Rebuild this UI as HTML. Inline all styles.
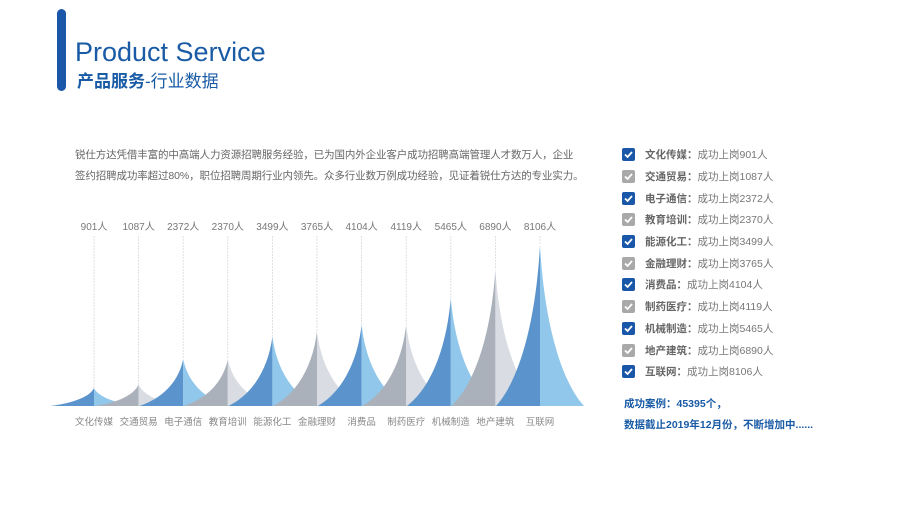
<!DOCTYPE html>
<html><head><meta charset="utf-8"><style>
html,body{margin:0;padding:0;background:#fff;}
body{width:907px;height:510px;overflow:hidden;position:relative;font-family:"Liberation Sans","Noto Sans CJK SC",sans-serif;}
.bar{position:absolute;left:57px;top:9px;width:9px;height:82px;border-radius:5px;background:#1a57a8;}
.t1{position:absolute;left:75px;top:34px;font-size:27px;color:#1a5ba6;line-height:36px;white-space:nowrap;}
.t2{position:absolute;left:77px;top:71px;font-size:17px;color:#1a5ba6;line-height:22px;white-space:nowrap;}
.para{position:absolute;left:75px;top:145px;font-size:10.5px;color:#666;line-height:21px;white-space:nowrap;letter-spacing:-0.12px;}
.legend{position:absolute;left:622px;top:144px;}
.row{height:21.7px;display:flex;align-items:center;font-size:10.5px;color:#777;white-space:nowrap;}
.cb{width:13px;height:13px;border-radius:2px;margin-right:10px;display:flex;align-items:center;justify-content:center;}
.cb svg{display:block}
.row b{color:#666;font-weight:bold;}
.foot{position:absolute;left:624px;font-size:10.5px;font-weight:bold;color:#1a5ba6;white-space:nowrap;}
</style></head><body>
<div class="bar"></div>
<div class="t1">Product Service</div>
<div class="t2"><b>产品服务</b>-行业数据</div>
<div class="para">锐仕方达凭借丰富的中高端人力资源招聘服务经验，已为国内外企业客户成功招聘高端管理人才数万人，企业<br>签约招聘成功率超过80%，职位招聘周期行业内领先。众多行业数万例成功经验，见证着锐仕方达的专业实力。</div>
<svg width="907" height="510" style="position:absolute;left:0;top:0" xmlns="http://www.w3.org/2000/svg" font-family="Liberation Sans, Noto Sans CJK SC, sans-serif">
<g id="chart"></g>
</svg>
<div class="legend" id="lg"></div>
<div class="foot" style="top:396px">成功案例：45395个，</div>
<div class="foot" style="top:417px">数据截止2019年12月份，不断增加中......</div>
<script>
var names=["文化传媒","交通贸易","电子通信","教育培训","能源化工","金融理财","消费品","制药医疗","机械制造","地产建筑","互联网"];
var vals=[901,1087,2372,2370,3499,3765,4104,4119,5465,6890,8106];
var B=406,s="";
for(var i=0;i<11;i++){
 var x=94+i*44.6,h=vals[i]/8106*161,blue=i%2==0;
 var dk=blue?"#5b93cc":"#aab1bb",lt=blue?"#7dbde6":"#d2d7de";
 s+='<line x1="'+x+'" y1="236" x2="'+x+'" y2="'+(B-h)+'" stroke="#d8d8d8" stroke-width="0.8" stroke-dasharray="2,1"/>';
 var w=44;
 s+='<path d="M'+(x-w)+','+B+' C'+(x-w*0.5)+','+(B-h*0.15)+' '+(x-w*0.1)+','+(B-h*0.5)+' '+x+','+(B-h)+' L'+x+','+B+' Z" fill="'+dk+'"/>';
 s+='<path d="M'+x+','+(B-h)+' C'+(x+w*0.1)+','+(B-h*0.5)+' '+(x+w*0.5)+','+(B-h*0.15)+' '+(x+w)+','+B+' L'+x+','+B+' Z" fill="'+lt+'" fill-opacity="0.85"/>';
 s+='<text x="'+x+'" y="230" font-size="10" fill="#777" text-anchor="middle">'+vals[i]+'人</text>';
 s+='<text x="'+x+'" y="425" font-size="9.5" fill="#888" text-anchor="middle">'+names[i]+'</text>';
}
document.getElementById("chart").innerHTML=s;
var l="";
for(var i=0;i<11;i++){
 var c=i%2==0?"#1a57a8":"#a9a9a9";
 l+='<div class="row"><div class="cb" style="background:'+c+'"><svg width="9" height="9"><path d="M1,4.5 L3.6,7 L8,2" stroke="#fff" stroke-width="1.8" fill="none"/></svg></div><b>'+names[i]+'：</b>成功上岗'+vals[i]+'人</div>';
}
document.getElementById("lg").innerHTML=l;
</script>
</body></html>
